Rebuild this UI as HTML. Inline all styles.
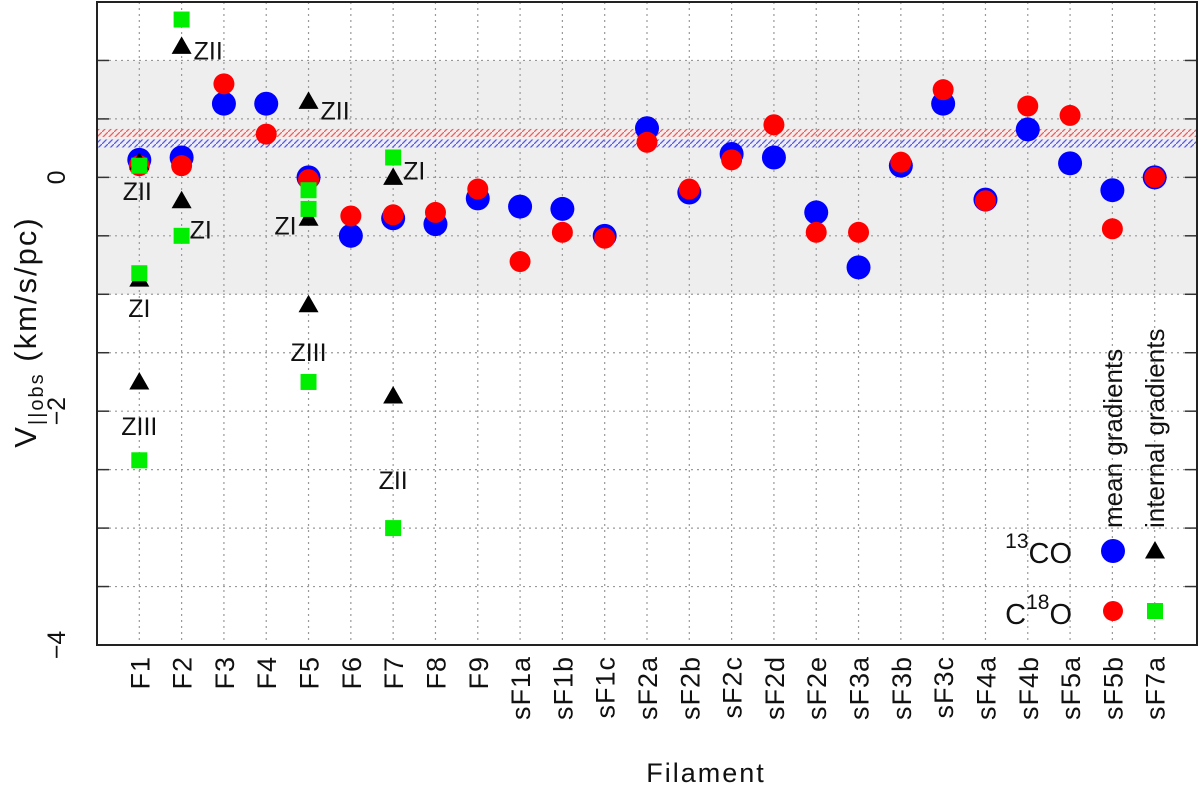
<!DOCTYPE html>
<html><head><meta charset="utf-8"><style>
html,body{margin:0;padding:0;background:#fff}
svg{display:block;font-family:"Liberation Sans",sans-serif}
</style></head><body>
<svg id="c" width="1200" height="789" viewBox="0 0 1200 789">
<defs>
<pattern id="hr" width="6" height="6" patternUnits="userSpaceOnUse"><path d="M0,6 L6,0" stroke="#f55" stroke-width="1.3"/></pattern>
<pattern id="hb" width="6" height="6" patternUnits="userSpaceOnUse"><path d="M0,6 L6,0" stroke="#55f" stroke-width="1.3"/></pattern>
</defs>
<g id="g"></g>
</svg>
<script>
const categories=["F1","F2","F3","F4","F5","F6","F7","F8","F9","sF1a","sF1b","sF1c","sF2a","sF2b","sF2c","sF2d","sF2e","sF3a","sF3b","sF3c","sF4a","sF4b","sF5a","sF5b","sF7a"];
const mean13CO=[0.15,0.17,0.63,0.63,0.0,-0.5,-0.35,-0.4,-0.18,-0.25,-0.27,-0.5,0.42,-0.13,0.2,0.17,-0.3,-0.77,0.1,0.63,-0.19,0.41,0.12,-0.11,0];
const meanC18O=[0.1,0.1,0.8,0.37,-0.02,-0.33,-0.32,-0.3,-0.1,-0.72,-0.47,-0.52,0.3,-0.1,0.15,0.45,-0.47,-0.47,0.13,0.75,-0.2,0.61,0.53,-0.44,0];
const int13CO=[[0,0.13,"ZII"],[0,-0.87,"ZI"],[0,-1.75,"ZIII"],[1,1.12,"ZII"],[1,-0.2,"ZI"],[4,0.65,"ZII"],[4,-0.35,"ZI"],[4,-1.09,"ZIII"],[6,0.0,""],[6,-1.87,"ZII"]];
const intC18O=[[0,0.1],[0,-0.82],[0,-2.42],[1,1.35],[1,-0.5],[4,-0.11],[4,-0.27],[4,-1.75],[6,0.17],[6,-3.0]];
const yTicks=[0,-2,-4];
const band=[1,-1];
const ref13CO=0.29, refC18O=0.38;

const L=97,R=1197,T=2,B=645,yMax=1.5,yMin=-4;
const X=i=>L+(i+1)*(R-L)/26;
const Y=v=>T+(yMax-v)/(yMax-yMin)*(B-T);
const NS="http://www.w3.org/2000/svg";
const g=document.getElementById('g');
function mk(t,a,txt){const e=document.createElementNS(NS,t);for(const k in a)e.setAttribute(k,a[k]);if(txt!==undefined)e.textContent=txt;g.appendChild(e);return e;}

let e=mk('rect',{x:L,y:Y(band[0]),width:R-L,height:Y(band[1])-Y(band[0]),fill:'#eeeeee'});


for(let v=1;v>=-3.5;v-=0.5){e=mk('line',{x1:L,x2:R,y1:Y(v),y2:Y(v),stroke:'#999','stroke-dasharray':'2,4','stroke-width':1.2});


e=mk('line',{x1:L,x2:L+12,y1:Y(v),y2:Y(v),stroke:'#333','stroke-width':1.5});


e=mk('line',{x1:R-12,x2:R,y1:Y(v),y2:Y(v),stroke:'#333','stroke-width':1.5});

}
categories.forEach((c,i)=>{e=mk('line',{x1:X(i),x2:X(i),y1:T,y2:B,stroke:'#999','stroke-dasharray':'2,4','stroke-width':1.2});


e=mk('text',{x:0,y:0,transform:`translate(${X(i)+10},656) rotate(-90)`,'text-anchor':'end','font-size':27,fill:'#111','letter-spacing':1},c);

});
e=mk('rect',{x:L,y:Y(refC18O)-4,width:R-L,height:8,fill:'url(#hr)'});


e=mk('rect',{x:L,y:Y(ref13CO)-4,width:R-L,height:8,fill:'url(#hb)'});


e=mk('rect',{x:L,y:T,width:R-L,height:B-T,fill:'none',stroke:'#222','stroke-width':2});


yTicks.forEach(v=>{e=mk('text',{x:0,y:0,transform:`translate(${L-32},${Y(v)}) rotate(-90)`,'text-anchor':'middle','font-size':25,fill:'#111'},v<0?'\u2212'+(-v):''+v);

});
categories.forEach((c,i)=>{e=mk('circle',{cx:X(i),cy:Y(mean13CO[i]),r:12,fill:'#0000ff'});

});
categories.forEach((c,i)=>{e=mk('circle',{cx:X(i),cy:Y(meanC18O[i]),r:10.5,fill:'#ff0000'});

});
function tri(x,y){const s=10;return `${x},${y-s} ${x-s},${y+s*0.75} ${x+s},${y+s*0.75}`;}
int13CO.forEach(d=>{e=mk('polygon',{points:tri(X(d[0]),Y(d[1])),fill:'#000'});

});
intC18O.forEach(d=>{e=mk('rect',{x:X(d[0])-8,y:Y(d[1])-8,width:16,height:16,fill:'#00ee00'});

});
const zl=[[0,0.13,-2,30,"middle"],[0,-0.87,0,30,"middle"],[0,-1.75,0,45,"middle"],[1,1.12,12,5,"start"],[1,-0.2,8,30,"start"],[4,0.65,12,10,"start"],[4,-0.35,-12,8,"end"],[4,-1.09,0,48,"middle"],[6,0.17,10,14,"start"],[6,-1.87,0,85,"middle"]];
zl.forEach(z=>{const lab=z[0]===6&&z[1]>0?"ZI":int13CO.find(d=>d[0]===z[0]&&d[1]===z[1])[2];
e=mk('text',{x:X(z[0])+z[2],y:Y(z[1])+z[3]+8,'text-anchor':z[4],'font-size':25,fill:'#111'},lab);

});
e=mk('text',{x:1072,y:563,'text-anchor':'end','font-size':29,fill:'#111'});e.innerHTML='<tspan font-size="21" dy="-15">13</tspan><tspan dy="15">CO</tspan>';


e=mk('text',{x:1072,y:624,'text-anchor':'end','font-size':29,fill:'#111'});e.innerHTML='C<tspan font-size="21" dy="-15">18</tspan><tspan dy="15">O</tspan>';


e=mk('text',{x:0,y:0,transform:'translate(1122,528) rotate(-90)','font-size':26,fill:'#111'},'mean gradients');


e=mk('text',{x:0,y:0,transform:'translate(1164,528) rotate(-90)','font-size':26,fill:'#111'},'internal gradients');


e=mk('circle',{cx:1113,cy:551,r:12,fill:'#0000ff'});


e=mk('polygon',{points:tri(1155,551),fill:'#000'});


e=mk('circle',{cx:1113,cy:611,r:10,fill:'#ff0000'});


e=mk('rect',{x:1147,y:603,width:16,height:16,fill:'#00ee00'});


e=mk('text',{x:706,y:782,'text-anchor':'middle','font-size':27,fill:'#111','letter-spacing':2},'Filament');


e=mk('text',{x:0,y:0,transform:'translate(36,332) rotate(-90)','text-anchor':'middle','font-size':31,fill:'#111','letter-spacing':2});
e.innerHTML='V<tspan font-size="20" dy="7">||obs</tspan><tspan dy="-7">  (km/s/pc)</tspan>';


</script>
</body></html>
